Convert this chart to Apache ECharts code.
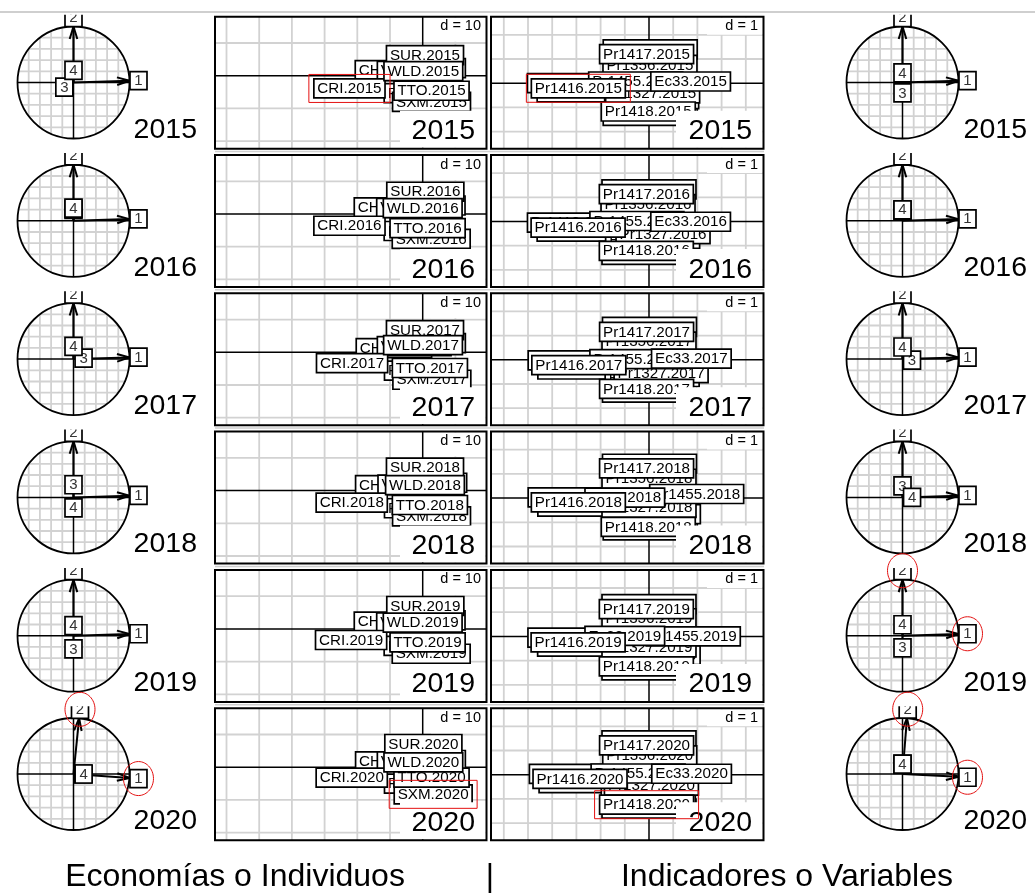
<!DOCTYPE html>
<html>
<head>
<meta charset="utf-8">
<title>Trayectorias 2015–2020</title>
<script src="https://cdn.jsdelivr.net/npm/echarts@6/dist/echarts.min.js"></script>
<style>
html, body { margin: 0; padding: 0; background: #fff; }
#main { width: 1035px; height: 893px; }
</style>
</head>
<body>
<div id="main"></div>
<script>
// ---------------------------------------------------------------- data
const years = ['2015', '2016', '2017', '2018', '2019', '2020'];

// economies, in drawing order (last one on top)
const econNames = ['URY', 'PAN', 'CHL', 'VCT', 'SXM', 'TTO', 'SUR', 'CRI', 'WLD'];
const econX = [
  [1.6, -0.3, -9.1, -2.6, 2.7, 2.7, 0.7, -22.4, 0.2],   // 2015
  [1.5, -0.3, -9.4, -2.8, 2.6, 1.5, 0.8, -22.4, 0.0],   // 2016
  [1.6, -0.2, -8.8, -2.6, 2.8, 2.2, 0.7, -21.6, 0.1],   // 2017
  [2.0, -0.2, -9.0, -2.4, 2.7, 2.2, 0.7, -21.7, 0.7],   // 2018
  [1.5, -0.3, -9.4, -2.8, 2.6, 1.5, 0.8, -21.9, 0.0],   // 2019
  [1.6, -0.2, -9.0, -2.6, 3.2, 2.7, 0.2, -21.7, 0.2]    // 2020
];
const econY = [
  [2.3, -5.3, 1.7, 1.5, -8.0, -4.6, 6.3, -3.9, 1.4],
  [2.6, -5.2, 2.0, 1.9, -7.6, -4.3, 6.8, -3.6, 1.8],
  [2.8, -5.6, 1.3, 1.9, -8.4, -4.8, 6.8, -3.3, 2.2],
  [2.4, -5.4, 1.7, 1.8, -7.9, -4.4, 7.0, -3.7, 1.7],
  [2.6, -5.2, 2.2, 2.0, -7.6, -4.1, 7.0, -3.4, 1.9],
  [2.2, -5.0, 1.8, 1.8, -8.3, -3.2, 7.1, -3.2, 1.5]
];

// indicators, in drawing order (last one on top)
const varNames = ['Pr1413', 'Pr1414', 'Pr1419', 'Pr1357', 'Pr1352', 'Pr1327',
                  'Pr1356', 'Pr1455', 'Ec33', 'Pr1418', 'Pr1417', 'Pr1416'];
const varX = [
  [-3.08, -2.68, 0.05, 0.05, 0.11, 0.15, 0.04, -0.55, 1.72, -0.03, -0.10, -2.92],
  [-3.08, -2.68, 0.00, 0.00, 0.15, 0.58, -0.04, -0.50, 1.72, -0.11, -0.11, -2.93],
  [-3.05, -2.65, 0.02, 0.02, 0.13, 0.50, 0.00, -0.50, 1.75, -0.10, -0.10, -2.90],
  [-3.05, -2.65, 0.02, 0.05, 0.18, 0.00, 0.00, 1.97, -1.00, -0.03, -0.10, -2.92],
  [-3.06, -2.66, 0.00, 0.00, 0.17, 0.00, 0.00, 1.83, -1.00, -0.11, -0.11, -2.93],
  [-3.00, -2.60, 0.00, 0.00, -0.03, 0.10, 0.03, -0.45, 1.76, -0.10, -0.10, -2.85]
];
const varY = [
  [0.00, -0.38, 1.40, -1.35, -0.66, -0.42, 0.76, 0.07, 0.07, -1.17, 1.20, -0.21],
  [-0.05, -0.42, 1.33, -1.38, -0.72, -0.52, 0.72, 0.02, -0.01, -1.21, 1.13, -0.25],
  [-0.02, -0.40, 1.36, -1.36, -0.72, -0.55, 0.75, 0.03, 0.05, -1.20, 1.15, -0.22],
  [0.03, -0.35, 1.42, -1.33, -0.66, -0.40, 0.80, 0.17, 0.02, -1.19, 1.23, -0.18],
  [-0.05, -0.42, 1.33, -1.40, -0.77, -0.45, 0.75, 0.00, 0.02, -1.24, 1.13, -0.25],
  [0.03, -0.35, 1.42, -1.40, -0.76, -0.45, 0.80, 0.05, 0.04, -1.24, 1.21, -0.17]
];

// correlation circles: coordinates of axes 1..4, economies block (left)
const circleLeftX = [
  [1.0, 0.0, -0.02, 0.0],
  [1.0, 0.0, 0.0, 0.0],
  [1.0, 0.0, 0.02, 0.0],
  [1.0, 0.0, 0.0, 0.0],
  [1.0, 0.0, 0.0, 0.0],
  [1.0, 0.1, 0.01, 0.02]
];
const circleLeftY = [
  [0.03, 1.0, -0.01, 0.055],
  [0.03, 1.0, 0.045, 0.065],
  [0.03, 1.0, 0.002, 0.065],
  [0.03, 1.0, 0.065, -0.025],
  [0.03, 1.0, -0.075, 0.02],
  [-0.07, 0.995, 0.0, 0.0]
];
// correlation circles, indicators block (right)
const circleRightX = [
  [1.0, 0.0, 0.0, 0.0],
  [1.0, 0.0, 0.0, 0.0],
  [1.0, 0.0, 0.01, 0.0],
  [1.0, 0.0, 0.0, 0.01],
  [1.0, 0.0, 0.0, 0.0],
  [1.0, 0.08, 0.0, 0.0]
];
const circleRightY = [
  [0.03, 1.0, -0.025, 0.01],
  [0.03, 1.0, 0.025, 0.035],
  [0.03, 1.0, -0.001, 0.055],
  [0.03, 1.0, 0.045, 0.0],
  [0.03, 1.0, -0.055, 0.035],
  [-0.05, 0.997, 0.01, 0.015]
];

// labels framed in red
const econFramed = [['CRI', '2015'], ['SXM', '2020']];
const varFramed = [['Pr1416', '2015'], ['Pr1418', '2020']];
// circle labels ringed in red: [block, year, axis]
const ringed = [['L', '2020', 1], ['L', '2020', 2], ['R', '2019', 1], ['R', '2019', 2], ['R', '2020', 1], ['R', '2020', 2]];

const econGridStep = 10;   // d = 10
const varGridStep = 1;     // d = 1
const circleGridStep = 0.2;
const footer = ['Economías o Individuos', '|', 'Indicadores o Variables'];

// ---------------------------------------------------------------- layout
const FONT = '"Liberation Sans", Arial, Helvetica, sans-serif';
const ROW0 = 16.7, ROW_STEP = 138.3, ROW_H = 132;
const GRID_C = '#d2d2d2', GRID_W = 1.8;
const RED = '#e41010';
const LABEL_SIZE = 15.2;
const ECON = { left: 215, right: 486.5, ox: 422.7, oy: 59, unit: 3.27, dRectBottom: 24 };
const VARS = { left: 491, right: 763.5, ox: 649, oy: 66.5, unit: 24.2, dRectBottom: 17 };
const CIRC_L = { left: 0, right: 213, cx: 73.5, yearRight: 123.5 };
const CIRC_R = { left: 832, right: 1035, cx: 902.5, yearRight: 124.5 };
const CIRC_UNIT = 56, CIRC_CY = 65.8;

const mctx = document.createElement('canvas').getContext('2d');
function measure(s, size) { mctx.font = size + 'px ' + FONT; return mctx.measureText(s).width; }

function seg(x1, y1, x2, y2, stroke, w) {
  return { type: 'line', shape: { x1, y1, x2, y2 }, style: { stroke, lineWidth: w } };
}
function txt(x, y, s, size, align, fill) {
  return { type: 'text', style: { x, y, text: s, font: size + 'px ' + FONT, fill: fill || '#000',
    align, textAlign: align, verticalAlign: 'middle', textVerticalAlign: 'middle' } };
}
function box(x, y, w, h, fill, stroke, lw) {
  return { type: 'rect', shape: { x, y, width: w, height: h },
    style: { fill: fill, stroke: stroke, lineWidth: lw || 0 } };
}

const grids = [], xAxes = [], yAxes = [], series = [];
function addGrid(left, top, width, height, xr, yr) {
  const i = grids.length;
  grids.push({ left, top, width, height, show: false, containLabel: false });
  xAxes.push({ gridIndex: i, type: 'value', min: xr[0], max: xr[1], show: false });
  yAxes.push({ gridIndex: i, type: 'value', min: yr[0], max: yr[1], show: false });
  return i;
}
function customSeries(gi, z, clip, data, renderItem) {
  series.push({ type: 'custom', coordinateSystem: 'cartesian2d', xAxisIndex: gi, yAxisIndex: gi,
    z, clip, silent: true, animation: false, data, renderItem });
}

// one scatter panel with boxed labels
function scatterPanel(r, L, d, names, xs, ys, framed, dLabel) {
  const year = years[r];
  const top = ROW0 + r * ROW_STEP;
  const xr = [(L.left - L.ox) / L.unit, (L.right - L.ox) / L.unit];
  const yr = [-(ROW_H - L.oy) / L.unit, L.oy / L.unit];
  const gi = addGrid(L.left, top, L.right - L.left, ROW_H, xr, yr);

  // grid and axes through the origin
  customSeries(gi, 1, true, [[0, 0]], function (params, api) {
    const cs = params.coordSys, o = api.coord([0, 0]), ch = [];
    for (let k = Math.ceil(xr[0] / d); k <= Math.floor(xr[1] / d); k++) {
      if (k === 0) continue;
      const px = api.coord([k * d, 0])[0];
      ch.push(seg(px, cs.y, px, cs.y + cs.height, GRID_C, GRID_W));
    }
    for (let k = Math.ceil(yr[0] / d); k <= Math.floor(yr[1] / d); k++) {
      if (k === 0) continue;
      const py = api.coord([0, k * d])[1];
      ch.push(seg(cs.x, py, cs.x + cs.width, py, GRID_C, GRID_W));
    }
    ch.push(seg(o[0], cs.y, o[0], cs.y + cs.height, '#000', 1.5));
    ch.push(seg(cs.x, o[1], cs.x + cs.width, o[1], '#000', 1.5));
    return { type: 'group', children: ch };
  });

  // boxed labels
  customSeries(gi, 2, true, xs.map((x, i) => [x, ys[i]]), function (params, api) {
    const p = api.coord([api.value(0), api.value(1)]);
    const s = names[params.dataIndex] + '.' + year;
    const w = measure(s, LABEL_SIZE) + 7, h = 19;
    return { type: 'group', children: [
      box(p[0] - w / 2, p[1] - h / 2, w, h, '#fff', '#000', 1.7),
      txt(p[0], p[1] + 0.5, s, LABEL_SIZE, 'center', '#000')
    ] };
  });

  // scale note, year caption and frame
  customSeries(gi, 3, false, [[0, 0]], function (params) {
    const cs = params.coordSys, right = cs.x + cs.width;
    return { type: 'group', children: [
      box(cs.x + 216, cs.y + 1, cs.width - 217, L.dRectBottom, '#fff', null, 0),
      txt(right - 5.5, cs.y + 9.5, dLabel, 14.5, 'right', '#000'),
      box(cs.x + 185, cs.y + 94, cs.width - 186, cs.height - 95, '#fff', null, 0),
      txt(right - 11.5, cs.y + 125 - 10.3, year, 28.5, 'right', '#000'),
      box(cs.x, cs.y, cs.width, cs.height, 'none', '#000', 2)
    ] };
  });

  // red frames
  const fr = framed.filter(f => f[1] === year).map(f => {
    const i = names.indexOf(f[0]);
    return [xs[i], ys[i], i];
  });
  if (fr.length) {
    customSeries(gi, 4, false, fr, function (params, api) {
      const p = api.coord([api.value(0), api.value(1)]);
      const s = names[api.value(2)] + '.' + year;
      const w = measure(s, LABEL_SIZE) + 7 + 10, h = 19 + 9;
      return box(p[0] - w / 2, p[1] - h / 2, w, h, 'none', RED, 1);
    });
  }
}

function labelPos(api, x, y) {
  const t = api.coord([x, y]);
  const len = Math.hypot(x, y) || 1;
  return [t[0] + (x / len) * 9, t[1] - (y / len) * 9];
}

// one correlation circle
function circlePanel(r, side, C, xs, ys) {
  const year = years[r];
  const rowTop = ROW0 + r * ROW_STEP;
  const top = rowTop - 2, h = 136, cy = rowTop + CIRC_CY;
  const xr = [(C.left - C.cx) / CIRC_UNIT, (C.right - C.cx) / CIRC_UNIT];
  const yr = [-(top + h - cy) / CIRC_UNIT, (cy - top) / CIRC_UNIT];
  const gi = addGrid(C.left, top, C.right - C.left, h, xr, yr);
  const step = circleGridStep;

  // gridded disc, axes and year
  customSeries(gi, 1, true, [[0, 0]], function (params, api) {
    const o = api.coord([0, 0]), e = api.coord([1, 0]), R = e[0] - o[0], ch = [];
    const n = Math.round(1 / step);
    for (let k = -n + 1; k <= n - 1; k++) {
      if (k === 0) continue;
      const v = k * step, half = Math.sqrt(1 - v * v);
      const a = api.coord([v, -half]), b = api.coord([v, half]);
      ch.push(seg(a[0], a[1], b[0], b[1], GRID_C, GRID_W));
      const c = api.coord([-half, v]), d = api.coord([half, v]);
      ch.push(seg(c[0], c[1], d[0], d[1], GRID_C, GRID_W));
    }
    const l = api.coord([-1, 0]), rr = api.coord([1, 0]), b = api.coord([0, -1]), t = api.coord([0, 1]);
    ch.push(seg(l[0], l[1], rr[0], rr[1], '#000', 1.5));
    ch.push(seg(b[0], b[1], t[0], t[1], '#000', 1.5));
    ch.push({ type: 'circle', shape: { cx: o[0], cy: o[1], r: R }, style: { fill: 'none', stroke: '#000', lineWidth: 1.8 } });
    ch.push(txt(o[0] + C.yearRight, o[1] + 57.5 - 10.3, year, 28.5, 'right', '#000'));
    return { type: 'group', children: ch };
  });

  const pts = xs.map((x, i) => [x, ys[i]]);
  // arrows
  customSeries(gi, 2, true, pts, function (params, api) {
    const o = api.coord([0, 0]), t = api.coord([api.value(0), api.value(1)]);
    const dx = t[0] - o[0], dy = t[1] - o[1], len = Math.hypot(dx, dy);
    const ch = [seg(o[0], o[1], t[0], t[1], '#000', 2)];
    if (len > 14) {
      const ux = dx / len, uy = dy / len, ang = 17 * Math.PI / 180, hl = 13;
      [1, -1].forEach(sg => {
        const c = Math.cos(sg * ang), s = Math.sin(sg * ang);
        const rx = ux * c - uy * s, ry = ux * s + uy * c;
        ch.push(seg(t[0], t[1], t[0] - rx * hl, t[1] - ry * hl, '#000', 2));
      });
    }
    return { type: 'group', children: ch };
  });
  // axis numbers
  customSeries(gi, 3, true, pts, function (params, api) {
    const p = labelPos(api, api.value(0), api.value(1));
    const w = 17, hh = 18;
    return { type: 'group', children: [
      box(p[0] - w / 2, p[1] - hh / 2, w, hh, '#fff', '#000', 1.7),
      txt(p[0], p[1] + 0.5, String(params.dataIndex + 1), 15, 'center', '#333')
    ] };
  });
  // red rings
  const rg = ringed.filter(m => m[0] === side && m[1] === year).map(m => pts[m[2] - 1]);
  if (rg.length) {
    customSeries(gi, 5, false, rg, function (params, api) {
      const p = labelPos(api, api.value(0), api.value(1));
      const poly = [];
      for (let i = 0; i < 60; i++) {
        const a = i / 60 * Math.PI * 2;
        poly.push([p[0] + 15 * Math.cos(a), p[1] + 17 * Math.sin(a)]);
      }
      return { type: 'polygon', shape: { points: poly }, style: { fill: 'none', stroke: RED, lineWidth: 1 } };
    });
  }
}

for (let r = 0; r < years.length; r++) {
  circlePanel(r, 'L', CIRC_L, circleLeftX[r], circleLeftY[r]);
  scatterPanel(r, ECON, econGridStep, econNames, econX[r], econY[r], econFramed, 'd = ' + econGridStep);
  scatterPanel(r, VARS, varGridStep, varNames, varX[r], varY[r], varFramed, 'd = ' + varGridStep);
  circlePanel(r, 'R', CIRC_R, circleRightX[r], circleRightY[r]);
}

// page rules and footer captions
const graphic = [
  { type: 'line', shape: { x1: 0, y1: 12, x2: 1035, y2: 12 }, style: { stroke: '#cfcfcf', lineWidth: 2 }, z: 0 }
];
for (let r = 1; r < years.length; r++) {
  const y = ROW0 + r * ROW_STEP - 3.5;
  graphic.push({ type: 'line', shape: { x1: 215, y1: y, x2: 764, y2: y }, style: { stroke: '#cfcfcf', lineWidth: 1.5 }, z: 0 });
}
const footerX = [235, 490, 787];
footer.forEach((s, i) => {
  graphic.push({ type: 'text', x: footerX[i], y: 877.5,
    style: { text: s, font: '32px ' + FONT, fill: '#000', align: 'center', textAlign: 'center',
      verticalAlign: 'middle', textVerticalAlign: 'middle' } });
});

const chart = echarts.init(document.getElementById('main'), null, { renderer: 'canvas' });
chart.setOption({
  animation: false,
  backgroundColor: '#fff',
  grid: grids,
  xAxis: xAxes,
  yAxis: yAxes,
  series: series,
  graphic: graphic
});
</script>
</body>
</html>
